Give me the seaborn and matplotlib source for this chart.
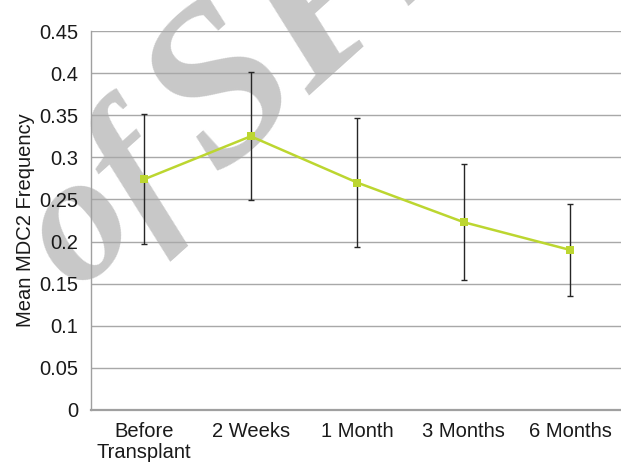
import matplotlib
matplotlib.use("Agg")
import matplotlib.pyplot as plt
import numpy as np
import pandas as pd
import seaborn as sns

# Mean MDC2 frequency at each time point, with error bar half-widths
timepoints = ["Before\nTransplant", "2 Weeks", "1 Month", "3 Months", "6 Months"]
mean_freq = [0.274, 0.325, 0.270, 0.223, 0.190]
err_freq = [0.077, 0.076, 0.077, 0.069, 0.055]
y_ticks = [0, 0.05, 0.1, 0.15, 0.2, 0.25, 0.3, 0.35, 0.4, 0.45]
y_tick_labels = ["0", "0.05", "0.1", "0.15", "0.2", "0.25", "0.3", "0.35", "0.4", "0.45"]

sns.set_theme(style="white")
plt.rcParams["font.family"] = ["Liberation Sans", "DejaVu Sans"]

df = pd.DataFrame({"pos": np.arange(len(timepoints)), "mean": mean_freq, "err": err_freq})

fig = plt.figure(figsize=(6.21, 4.65), dpi=100)
fig.patch.set_facecolor("white")

# watermark lettering behind the plot
mark_style = dict(family="Liberation Serif", style="italic", weight="bold",
                  color="#c8c8c8", rotation=42, rotation_mode="anchor",
                  ha="left", va="baseline", zorder=-1)
fig.text(0.122, 0.372, "of", fontsize=132, **mark_style)
fig.text(0.35, 0.625, "SPIE", fontsize=160, **mark_style)

ax = fig.add_axes([0.1465, 0.1183, 0.8575, 0.815])
ax.set_facecolor("none")

ax.errorbar(df["pos"], df["mean"], yerr=df["err"], fmt="none", ecolor="#262626",
            elinewidth=1.0, capsize=2.5, capthick=1.0, zorder=3)
sns.lineplot(data=df, x="pos", y="mean", ax=ax, color="#bcd630", linewidth=1.8,
             marker="s", markersize=5.5, markeredgewidth=0, zorder=4)

ax.set_xlim(-0.5, len(timepoints) - 0.5)
ax.set_ylim(0, 0.45)

ax.set_yticks(y_ticks)
ax.set_yticklabels(y_tick_labels)
ax.yaxis.grid(True, color="#a8a8a8", linewidth=1.0)
ax.xaxis.grid(False)
ax.set_axisbelow(True)

# tick marks sit on category boundaries, labels at category centres
ax.set_xticks(np.arange(len(timepoints) + 1) - 0.5)
ax.set_xticklabels([])
ax.set_xticks(df["pos"], minor=True)
ax.set_xticklabels(timepoints, minor=True, linespacing=1.08)
ax.tick_params(axis="x", which="major", direction="out", length=5, width=1, color="#a0a0a0")
ax.tick_params(axis="x", which="minor", length=0, pad=9, labelsize=14.5, labelcolor="#1a1a1a")
ax.tick_params(axis="y", direction="out", length=5, width=1, color="#a0a0a0",
               pad=4, labelsize=14.5, labelcolor="#1a1a1a")

for side in ("top", "right"):
    ax.spines[side].set_visible(False)
ax.spines["left"].set_color("#a0a0a0")
ax.spines["left"].set_linewidth(1.0)
ax.spines["bottom"].set_color("#a0a0a0")
ax.spines["bottom"].set_linewidth(1.6)

ax.set_xlabel("")
ax.set_ylabel("Mean MDC2 Frequency", fontsize=14.5, color="#1a1a1a", labelpad=3)

fig.savefig("out.png", dpi=100)
